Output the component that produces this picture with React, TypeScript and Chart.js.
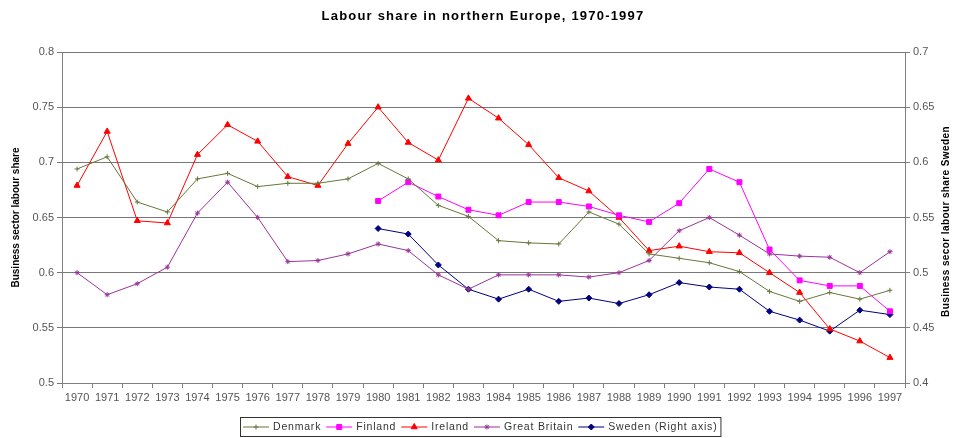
import React, { useEffect, useRef } from "react";
import { Chart, registerables } from "chart.js";
import { drawPoint } from "chart.js/helpers";

Chart.register(...registerables);

const FONT = "'Liberation Sans', Arial, Helvetica, sans-serif";

const years = [
  "1970", "1971", "1972", "1973", "1974", "1975", "1976", "1977", "1978", "1979",
  "1980", "1981", "1982", "1983", "1984", "1985", "1986", "1987", "1988", "1989",
  "1990", "1991", "1992", "1993", "1994", "1995", "1996", "1997",
];

const denmark = [
  0.694, 0.705, 0.664, 0.655, 0.685, 0.69, 0.678, 0.681, 0.681, 0.685,
  0.699, 0.685, 0.661, 0.651, 0.629, 0.627, 0.626, 0.655, 0.644, 0.617,
  0.613, 0.609, 0.601, 0.583, 0.574, 0.582, 0.576, 0.584,
];

const finland = [
  null, null, null, null, null, null, null, null, null, null,
  0.665, 0.682, 0.669, 0.657, 0.652, 0.664, 0.664, 0.66, 0.652, 0.646,
  0.663, 0.694, 0.682, 0.621, 0.593, 0.588, 0.588, 0.565,
];

const ireland = [
  0.679, 0.728, 0.647, 0.645, 0.707, 0.734, 0.719, 0.687, 0.679, 0.717,
  0.75, 0.718, 0.702, 0.758, 0.74, 0.716, 0.686, 0.674, 0.65, 0.62,
  0.624, 0.619, 0.618, 0.6, 0.582, 0.549, 0.538, 0.523,
];

const greatBritain = [
  0.6, 0.58, 0.59, 0.605, 0.654, 0.682, 0.65, 0.61, 0.611, 0.617,
  0.626, 0.62, 0.598, 0.585, 0.598, 0.598, 0.598, 0.596, 0.6, 0.611,
  0.638, 0.65, 0.634, 0.617, 0.615, 0.614, 0.6, 0.619,
];

const sweden = [
  null, null, null, null, null, null, null, null, null, null,
  0.54, 0.535, 0.507, 0.485, 0.476, 0.485, 0.474, 0.477, 0.472, 0.48,
  0.491, 0.487, 0.485, 0.465, 0.457, 0.447, 0.466, 0.462,
];

const seriesNames = ["Denmark", "Finland", "Ireland", "Great Britain", "Sweden (Right axis)"];
const seriesColors = ["#66773a", "#ff00ff", "#ff0000", "#993399", "#000080"];
const seriesPointStyles = ["cross", "rect", "triangle", "star", "rectRot"];
const seriesPointRadius = [2.5, 3.5, 3.5, 2.5, 3];

const leftAxis = { min: 0.5, max: 0.8, step: 0.05 };
const rightAxis = { min: 0.4, max: 0.7, step: 0.05 };

const chartTitle = "Labour share in northern Europe, 1970-1997";
const leftTitle = "Business sector labour share";
const rightTitle = "Business secor labour share Sweden";

const decorPlugin = {
  id: "decor",
  afterDraw(chart: any) {
    const ctx: any = chart.ctx;
    const area = chart.chartArea;
    ctx.save();
    // Title
    ctx.fillStyle = "#000";
    ctx.font = `bold 13px ${FONT}`;
    ctx.letterSpacing = "1.2px";
    ctx.textAlign = "center";
    ctx.textBaseline = "alphabetic";
    ctx.fillText(chartTitle, 483, 20);

    // Left axis title
    ctx.letterSpacing = "0px";
    ctx.font = `bold 10px ${FONT}`;
    ctx.save();
    ctx.translate(16, (area.top + area.bottom) / 2);
    ctx.rotate(-Math.PI / 2);
    ctx.textBaseline = "middle";
    ctx.fillText(leftTitle, 0, 0);
    ctx.restore();

    // Right axis title
    ctx.save();
    ctx.letterSpacing = "0.4px";
    ctx.translate(946, (area.top + area.bottom) / 2 + 4);
    ctx.rotate(-Math.PI / 2);
    ctx.textBaseline = "middle";
    ctx.fillText(rightTitle, 0, 0);
    ctx.restore();

    // Legend
    ctx.font = `10.5px ${FONT}`;
    ctx.letterSpacing = "0.8px";
    ctx.textAlign = "left";
    ctx.textBaseline = "middle";
    const boxLeft = 240;
    const boxTop = 417;
    const boxH = 19;
    const cy = boxTop + boxH / 2;
    let x = boxLeft + 3;
    const lineLen = 26;
    const widths: number[] = seriesNames.map((n) => ctx.measureText(n).width);
    const positions: number[] = [];
    seriesNames.forEach((n, i) => {
      positions.push(x);
      x += lineLen + 4 + widths[i] + 5;
    });
    const boxRight = x - 2;
    ctx.strokeStyle = "#333";
    ctx.lineWidth = 1;
    ctx.strokeRect(boxLeft + 0.5, boxTop + 0.5, boxRight - boxLeft, boxH);
    seriesNames.forEach((n, i) => {
      const px = positions[i];
      ctx.strokeStyle = seriesColors[i];
      ctx.fillStyle = seriesColors[i];
      ctx.lineWidth = 1;
      ctx.beginPath();
      ctx.moveTo(px, cy + 0.5);
      ctx.lineTo(px + lineLen, cy + 0.5);
      ctx.stroke();
      drawPoint(ctx, {
        pointStyle: seriesPointStyles[i],
        radius: seriesPointRadius[i],
        rotation: 0,
        borderWidth: 1,
      } as any, px + lineLen / 2, cy + 0.5);
      ctx.fillStyle = "#333";
      ctx.fillText(n, px + lineLen + 4, cy + 1);
    });
    ctx.restore();
  },
};

const fmt = (v: any) => String(Number(Number(v).toFixed(2)));

export default function App() {
  const canvasRef = useRef<HTMLCanvasElement | null>(null);

  useEffect(() => {
    if (!canvasRef.current) return;
    const allSeries = [denmark, finland, ireland, greatBritain, sweden];
    const chart = new Chart(canvasRef.current, {
      type: "line",
      data: {
        labels: years,
        datasets: allSeries.map((d, i) => ({
          label: seriesNames[i],
          data: d,
          yAxisID: i === 4 ? "y1" : "y",
          borderColor: seriesColors[i],
          backgroundColor: seriesColors[i],
          pointBackgroundColor: seriesColors[i],
          pointBorderColor: seriesColors[i],
          pointStyle: seriesPointStyles[i] as any,
          pointRadius: seriesPointRadius[i],
          pointBorderWidth: 1,
          borderWidth: 1,
          tension: 0,
          spanGaps: false,
          fill: false,
        })),
      },
      options: {
        responsive: false,
        animation: false,
        layout: { padding: { top: 52, left: 0, right: 0, bottom: 0 } },
        plugins: {
          legend: { display: false },
          title: { display: false },
          tooltip: { enabled: false },
        },
        scales: {
          x: {
            type: "category",
            offset: true,
            grid: {
              display: true,
              drawOnChartArea: false,
              drawTicks: true,
              tickLength: 5,
              offset: true,
              color: "#808080",
            },
            border: { display: true, color: "#808080" },
            ticks: {
              autoSkip: false,
              maxRotation: 0,
              minRotation: 0,
              padding: 3,
              color: "#555",
              font: { family: FONT, size: 11 },
            },
            afterFit: (s: any) => {
              s.height = 55;
            },
          },
          y: {
            position: "left",
            min: leftAxis.min,
            max: leftAxis.max,
            ticks: {
              stepSize: leftAxis.step,
              padding: 3,
              color: "#555",
              font: { family: FONT, size: 11 },
              callback: fmt,
            },
            grid: { color: "#777", tickLength: 5, drawTicks: true },
            border: { display: true, color: "#808080" },
            afterFit: (s: any) => {
              s.width = 62;
            },
          },
          y1: {
            position: "right",
            min: rightAxis.min,
            max: rightAxis.max,
            ticks: {
              stepSize: rightAxis.step,
              padding: 3,
              color: "#555",
              font: { family: FONT, size: 11 },
              callback: fmt,
            },
            grid: { drawOnChartArea: false, tickLength: 5, drawTicks: true, color: "#808080" },
            border: { display: true, color: "#808080" },
            afterFit: (s: any) => {
              s.width = 50;
            },
          },
        },
      },
      plugins: [decorPlugin],
    });
    return () => chart.destroy();
  }, []);

  return (
    <div style={{ position: "absolute", left: 0, top: 0, width: 955, height: 438, background: "#fff" }}>
      <canvas ref={canvasRef} width={955} height={438} style={{ width: 955, height: 438, display: "block" }} />
    </div>
  );
}
